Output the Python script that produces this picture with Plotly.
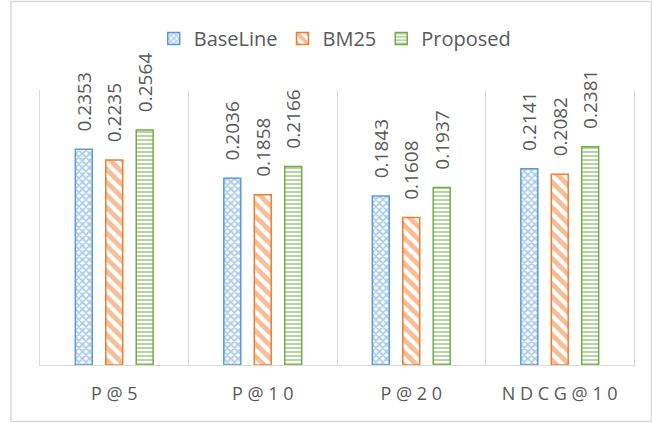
import plotly.graph_objects as go

categories = ["P @ 5", "P @ 1 0", "P @ 2 0", "N D C G @ 1 0"]
series_names = ["BaseLine", "BM25", "Proposed"]
baseline = [0.2353, 0.2036, 0.1843, 0.2141]
bm25 = [0.2235, 0.1858, 0.1608, 0.2082]
proposed = [0.2564, 0.2166, 0.1937, 0.2381]

colors = ["#5B9BD5", "#ED7D31", "#70AD47"]
patterns = [
    dict(shape="x", size=5, solidity=0.6),
    dict(shape="\\", size=9, solidity=0.55),
    dict(shape="-", size=4, solidity=0.5),
]

W, H = 652, 423
L, R, T, B = 40, 18, 90, 58
pw, ph = W - L - R, H - T - B
PAD = "\u00a0\u00a0\u00a0"

fig = go.Figure()
for name, vals, col, pat in zip(series_names, [baseline, bm25, proposed], colors, patterns):
    fig.add_trace(go.Bar(
        name=name, x=categories, y=vals,
        text=[PAD + f"{v:.4f}" for v in vals],
        textposition="outside", textangle=-90, constraintext="none",
        textfont=dict(family="Open Sans", size=19, color="#595959"),
        cliponaxis=False,
        marker=dict(
            color="white",
            line=dict(color=col, width=1.5),
            pattern=dict(shape=pat["shape"], size=pat["size"], solidity=pat["solidity"],
                         fgcolor=col, bgcolor="white", fillmode="overlay"),
        ),
    ))

# outer chart border (in pixel terms converted to paper coords)
bx0, bx1, by0, by1 = 11, 651.5, 1.5, 421.5
fig.add_shape(type="rect", xref="paper", yref="paper",
              x0=(bx0 - L) / pw, x1=(bx1 - L) / pw,
              y0=-(by1 - (T + ph)) / ph, y1=1 + (T - by0) / ph,
              line=dict(color="#D9D9D9", width=1.5), fillcolor="rgba(0,0,0,0)", layer="below")

fig.update_layout(
    width=W, height=H,
    margin=dict(l=L, r=R, t=T, b=B),
    paper_bgcolor="white", plot_bgcolor="white",
    barmode="group", bargap=0.385, bargroupgap=0.444,
    font=dict(family="Open Sans", color="#595959"),
    showlegend=True,
    legend=dict(orientation="h", x=0.497, xanchor="center", y=1 + (T - 19) / ph, yanchor="top",
                font=dict(family="Open Sans", size=20, color="#595959"),
                itemwidth=30, traceorder="normal"),
    xaxis=dict(type="category", tickson="boundaries", showgrid=True, gridcolor="#D9D9D9",
               gridwidth=1.2, showline=True, linecolor="#D9D9D9", linewidth=1.2,
               ticks="", ticklabelstandoff=12,
               tickfont=dict(family="Open Sans", size=18, color="#595959"),
               range=[-0.5, 3.5]),
    yaxis=dict(range=[0, 0.3], showgrid=False, showticklabels=False, zeroline=False,
               showline=True, linecolor="#D9D9D9", linewidth=1.2, mirror=True, ticks=""),
)

fig.write_html("out.html", config={"displayModeBar": False},
               post_script="document.body.style.margin='0';document.body.style.overflow='hidden';")
